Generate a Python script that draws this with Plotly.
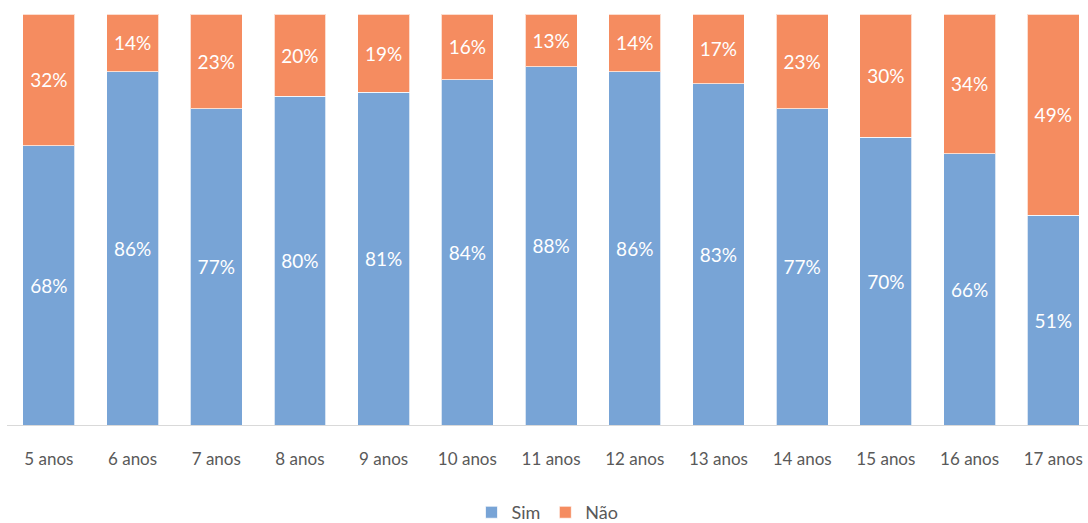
import plotly.graph_objects as go

categories = ["5 anos", "6 anos", "7 anos", "8 anos", "9 anos", "10 anos", "11 anos",
              "12 anos", "13 anos", "14 anos", "15 anos", "16 anos", "17 anos"]
sim = [68, 86, 77, 80, 81, 84, 88, 86, 83, 77, 70, 66, 51]
nao = [32, 14, 23, 20, 19, 16, 13, 14, 17, 23, 30, 34, 49]

FONT = "Lato"
fig = go.Figure()
fig.add_trace(go.Bar(
    x=categories, y=sim, name="Sim",
    marker=dict(color="#78A4D6", line=dict(color="rgba(255,255,255,0.7)", width=1)),
    text=[f"{v}%" for v in sim], textposition="inside", insidetextanchor="middle",
    textfont=dict(color="white", size=19, family=FONT), hoverinfo="skip",
))
fig.add_trace(go.Bar(
    x=categories, y=nao, name="Não",
    marker=dict(color="#F58C60", line=dict(color="rgba(255,255,255,0.7)", width=1)),
    text=[f"{v}%" for v in nao], textposition="inside", insidetextanchor="middle",
    textfont=dict(color="white", size=19, family=FONT), hoverinfo="skip",
))
fig.update_layout(
    barmode="stack", barnorm="percent", bargap=0.38,
    width=1088, height=523,
    margin=dict(l=7, r=0, t=14, b=98, autoexpand=False),
    plot_bgcolor="white", paper_bgcolor="white",
    font=dict(family=FONT, color="#595959", size=17),
    uniformtext=dict(mode=False),
    legend=dict(orientation="h", x=0.5, xanchor="center", yref="container", y=0.02, yanchor="middle",
                font=dict(size=18, color="#595959"), itemwidth=30, traceorder="normal"),
    xaxis=dict(showline=True, linecolor="#D9D9D9", linewidth=1, ticks="",
               range=[-0.5, 12.415], tickfont=dict(size=17, color="#595959"),
               ticklabelstandoff=19, automargin=False),
    yaxis=dict(visible=False, range=[0, 100], showgrid=False),
)
fig.write_html("out.html")
